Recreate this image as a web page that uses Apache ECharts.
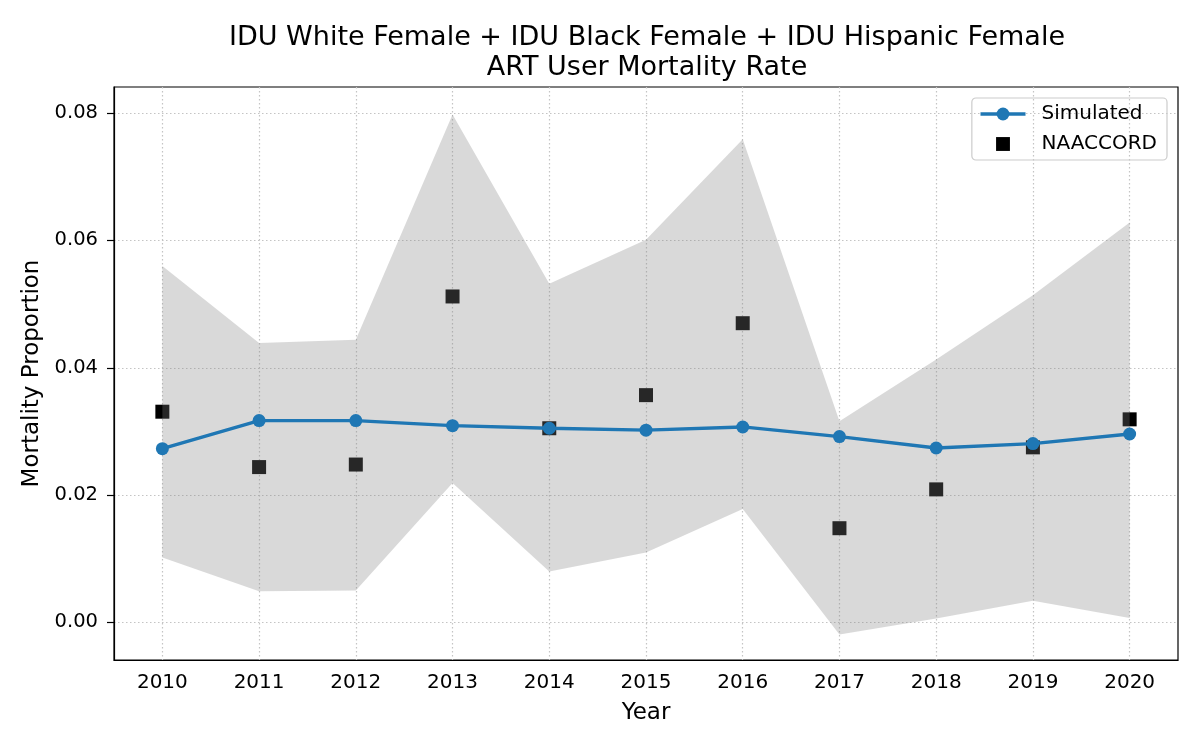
<!DOCTYPE html>
<html>
<head>
<meta charset="utf-8">
<script src="https://cdn.jsdelivr.net/npm/echarts@6/dist/echarts.min.js"></script>
<style>
  html, body { margin: 0; padding: 0; background: #fff; }
  #chart { width: 1200px; height: 750px; }
</style>
</head>
<body>
<div id="chart"></div>
<script>
// data
const years = ['2010', '2011', '2012', '2013', '2014', '2015', '2016', '2017', '2018', '2019', '2020']
const simulated = [0.0273, 0.0317, 0.0317, 0.0309, 0.0305, 0.0302, 0.0307, 0.0292, 0.0274, 0.0281, 0.0296]
const naaccord = [0.0331, 0.0244, 0.0248, 0.0512, 0.0305, 0.0357, 0.0470, 0.0148, 0.0209, 0.0275, 0.0319]
const bandLow = [0.0102, 0.0049, 0.0050, 0.0219, 0.0080, 0.0110, 0.0178, -0.0019, 0.0006, 0.0034, 0.0007]
const bandHigh = [0.0560, 0.0439, 0.0444, 0.0798, 0.0532, 0.0601, 0.0759, 0.0316, 0.0413, 0.0514, 0.0628]
const yTicks = [0, 0.02, 0.04, 0.06, 0.08]

const font = 'DejaVu Sans'
const gridLine = { show: true, lineStyle: { color: '#c4c4c4', width: 1.2, type: [1.5, 2.5] } }

const chart = echarts.init(document.getElementById('chart'))
chart.setOption({
  animation: false,
  textStyle: { fontFamily: font },
  title: {
    text: 'IDU White Female + IDU Black Female + IDU Hispanic Female\nART User Mortality Rate',
    left: 642,
    top: 18,
    textAlign: 'center',
    textStyle: { fontFamily: font, fontSize: 27, fontWeight: 'normal', color: '#000', lineHeight: 30 }
  },
  legend: {
    right: 33,
    top: 98,
    orient: 'vertical',
    padding: [6, 10, 6, 7],
    itemGap: 10,
    itemWidth: 45,
    itemHeight: 16,
    borderColor: '#cccccc',
    borderWidth: 1.2,
    borderRadius: 4,
    symbolKeepAspect: true,
    lineStyle: { width: 3.3 },
    textStyle: { fontFamily: font, fontSize: 20, color: '#000', padding: [0, 0, 0, 11] },
    data: [
      { name: 'Simulated' },
      { name: 'NAACCORD', icon: 'path://M0,0L0,0M15,15L15,15M1,1h13v13h-13z' }
    ]
  },
  grid: {
    left: 114,
    right: 22,
    top: 87,
    bottom: 90,
    show: true,
    borderColor: '#000',
    borderWidth: 1.2,
    backgroundColor: 'transparent'
  },
  xAxis: {
    type: 'category',
    data: years,
    boundaryGap: true,
    name: 'Year',
    nameLocation: 'middle',
    nameGap: 42,
    nameTextStyle: { fontFamily: font, fontSize: 23, color: '#000' },
    axisLine: { onZero: false, lineStyle: { color: '#000', width: 1.2 } },
    axisTick: { alignWithLabel: true, length: 7, lineStyle: { color: '#000', width: 1.2 } },
    axisLabel: { fontFamily: font, fontSize: 20, color: '#000', margin: 13 },
    splitLine: Object.assign({ alignWithLabel: true }, gridLine)
  },
  yAxis: {
    type: 'value',
    min: -0.0059,
    max: 0.0841,
    name: 'Mortality Proportion',
    nameLocation: 'middle',
    nameGap: 70,
    nameTextStyle: { fontFamily: font, fontSize: 23, color: '#000' },
    axisLine: { show: true, lineStyle: { color: '#000', width: 1.2 } },
    axisTick: { show: true, length: 7, customValues: yTicks, lineStyle: { color: '#000', width: 1.2 } },
    axisLabel: {
      fontFamily: font, fontSize: 19.5, color: '#000', margin: 16,
      customValues: yTicks,
      formatter: (v) => v.toFixed(2)
    },
    splitLine: gridLine
  },
  series: [
    {
      name: 'bandLow',
      type: 'line',
      stack: 'band',
      stackStrategy: 'all',
      data: bandLow,
      symbol: 'none',
      lineStyle: { opacity: 0 },
      silent: true
    },
    {
      name: 'band',
      type: 'line',
      stack: 'band',
      stackStrategy: 'all',
      data: bandHigh.map((v, i) => v - bandLow[i]),
      symbol: 'none',
      lineStyle: { opacity: 0 },
      areaStyle: { color: 'rgba(128,128,128,0.3)', opacity: 1 },
      silent: true
    },
    {
      name: 'Simulated',
      type: 'line',
      data: simulated,
      symbol: 'circle',
      symbolSize: 13,
      itemStyle: { color: '#1f77b4' },
      lineStyle: { color: '#1f77b4', width: 3.3 }
    },
    {
      name: 'NAACCORD',
      type: 'scatter',
      data: naaccord,
      symbol: 'rect',
      symbolSize: 14,
      itemStyle: { color: '#000', opacity: 1 }
    }
  ]
})
</script>
</body>
</html>
